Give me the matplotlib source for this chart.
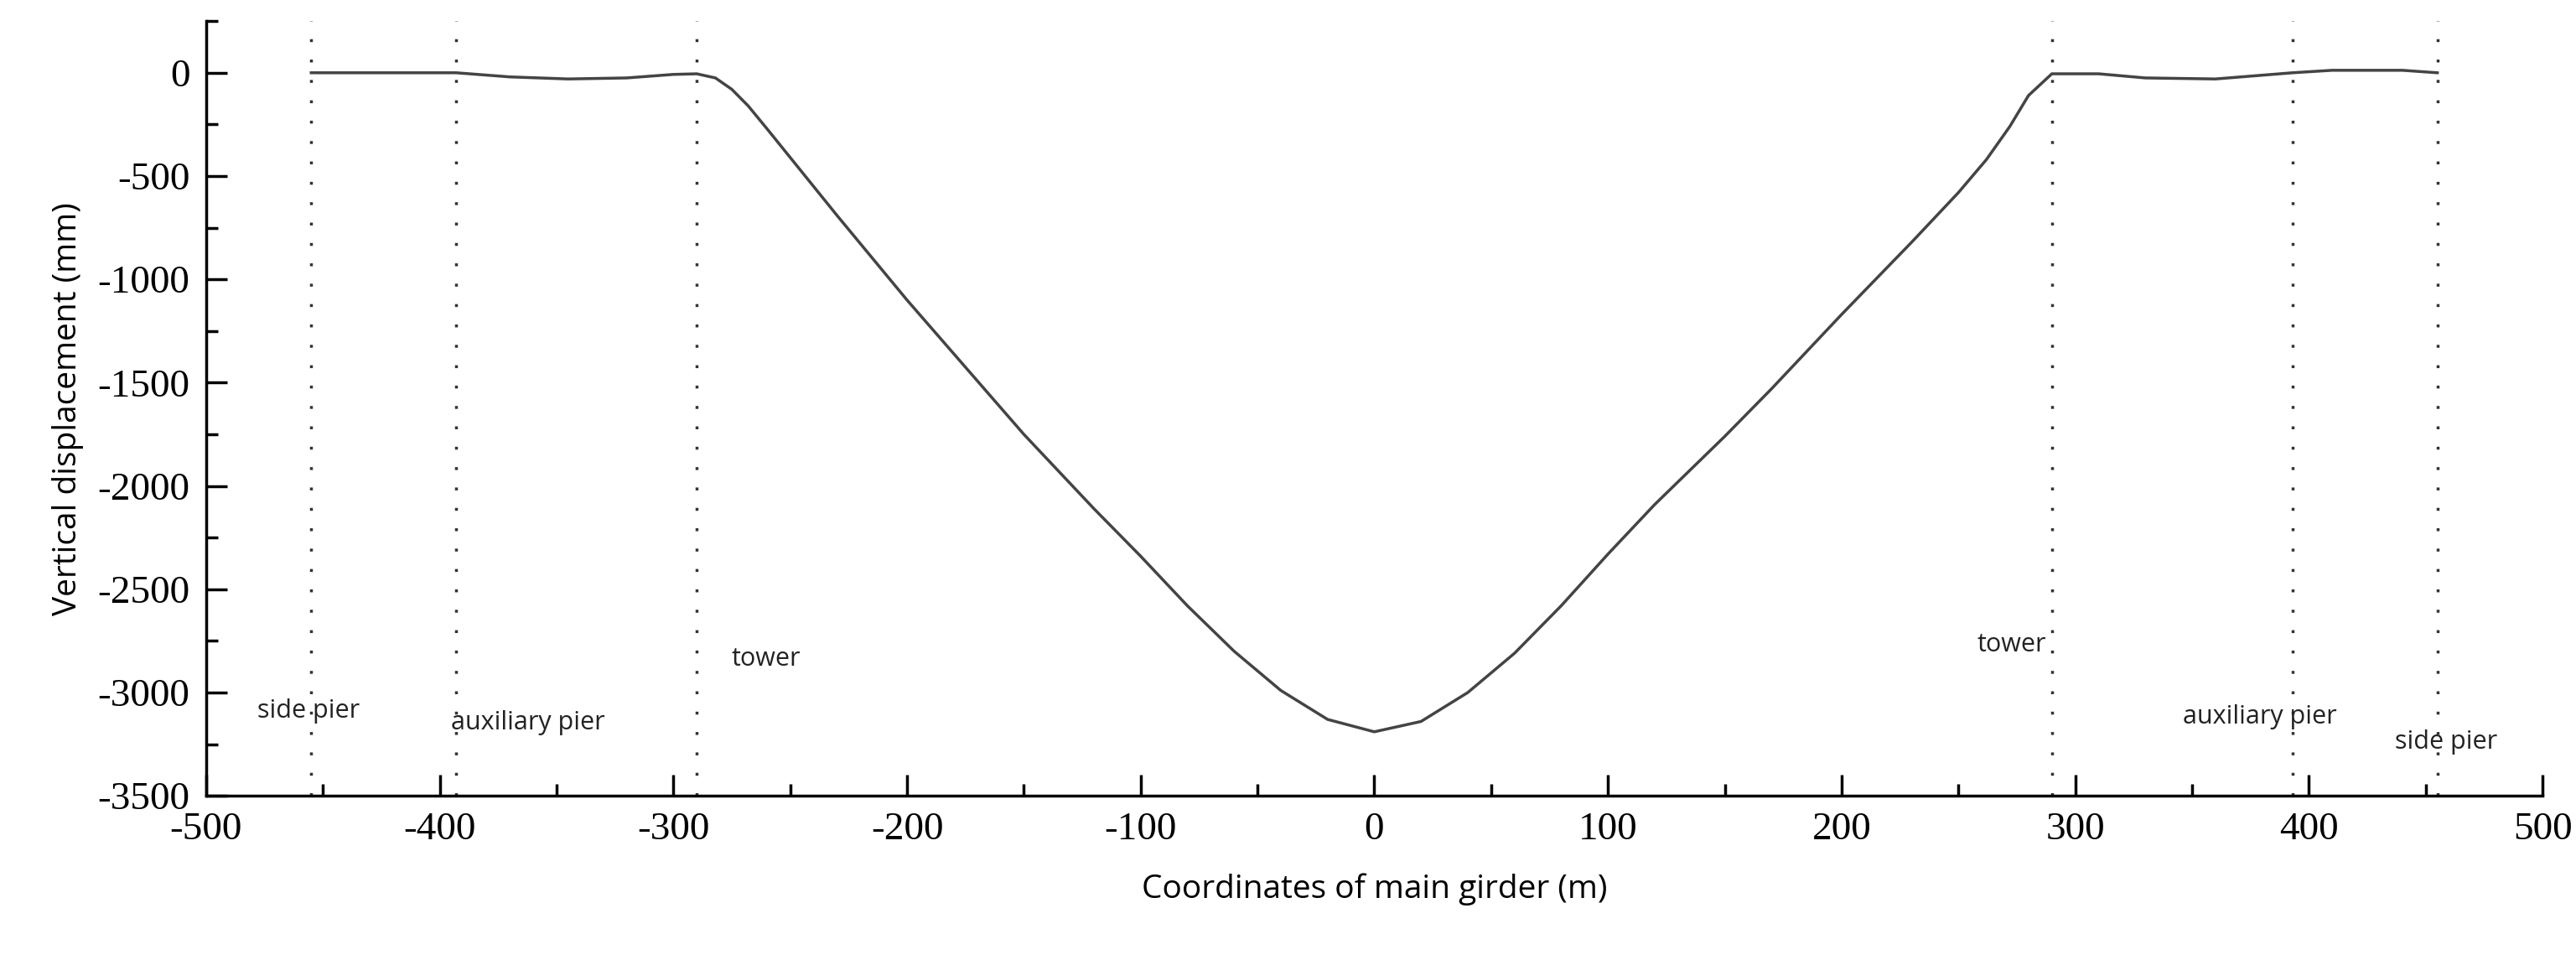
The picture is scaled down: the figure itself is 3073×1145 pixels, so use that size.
import numpy as np
import matplotlib.pyplot as plt
from matplotlib.ticker import MultipleLocator

plt.rcParams['axes.unicode_minus'] = False

# girder coordinates (m) and vertical displacement (mm)
x_pos = [-455, -420, -393, -370, -345, -320, -300, -290, -282, -275, -268, -260, -250, -230, -200,
         -170, -150, -120, -100, -80, -60, -40, -20, 0, 20, 40, 60, 80, 100, 120, 150,
         170, 200, 230, 250, 262, 272, 280, 290, 310, 330, 360, 393, 410, 440, 455]
disp = [0, 0, 0, -20, -30, -25, -8, -5, -25, -80, -160, -270, -410, -690, -1100,
        -1490, -1750, -2110, -2340, -2580, -2800, -2990, -3130, -3190, -3140, -3000, -2810, -2580, -2330, -2090, -1760,
        -1530, -1170, -820, -580, -420, -260, -110, -5, -5, -25, -30, 0, 12, 12, 0]

pier_x = [-455, -393, -290, 290, 393, 455]
labels = ['side pier', 'auxiliary pier', 'tower', 'tower', 'auxiliary pier', 'side pier']
label_x = [-478, -395, -275, 258, 346, 437]
label_y = [-3120, -3180, -2870, -2800, -3150, -3270]

fig, ax = plt.subplots(figsize=(30.73, 11.45), dpi=100)
fig.subplots_adjust(left=0.080, right=0.987, top=0.978, bottom=0.171)

ax.plot(x_pos, disp, color='#444444', lw=2.5)
for px in pier_x:
    ax.axvline(px, color='#333333', ls=(0, (1, 6)), lw=2.5)
for t, lx, ly in zip(labels, label_x, label_y):
    ax.text(lx, ly, t, fontsize=22, family='Open Sans', color='#222222')

ax.set_xlim(-500, 500)
ax.set_ylim(-3500, 250)
ax.xaxis.set_major_locator(MultipleLocator(100))
ax.xaxis.set_minor_locator(MultipleLocator(50))
ax.yaxis.set_major_locator(MultipleLocator(500))
ax.yaxis.set_minor_locator(MultipleLocator(250))
ax.tick_params(which='both', direction='in', width=2.5, labelsize=34)
ax.tick_params(which='major', length=18, pad=14)
ax.tick_params(which='minor', length=10)
for lab in ax.get_xticklabels() + ax.get_yticklabels():
    lab.set_family('Liberation Serif')
ax.spines['top'].set_visible(False)
ax.spines['right'].set_visible(False)
ax.spines['left'].set_linewidth(2.5)
ax.spines['bottom'].set_linewidth(2.5)
ax.set_xlabel('Coordinates of main girder (m)', fontsize=28, family='Open Sans', labelpad=22)
ax.set_ylabel('Vertical displacement (mm)', fontsize=28, family='Open Sans', labelpad=12)

fig.savefig('out.png')
